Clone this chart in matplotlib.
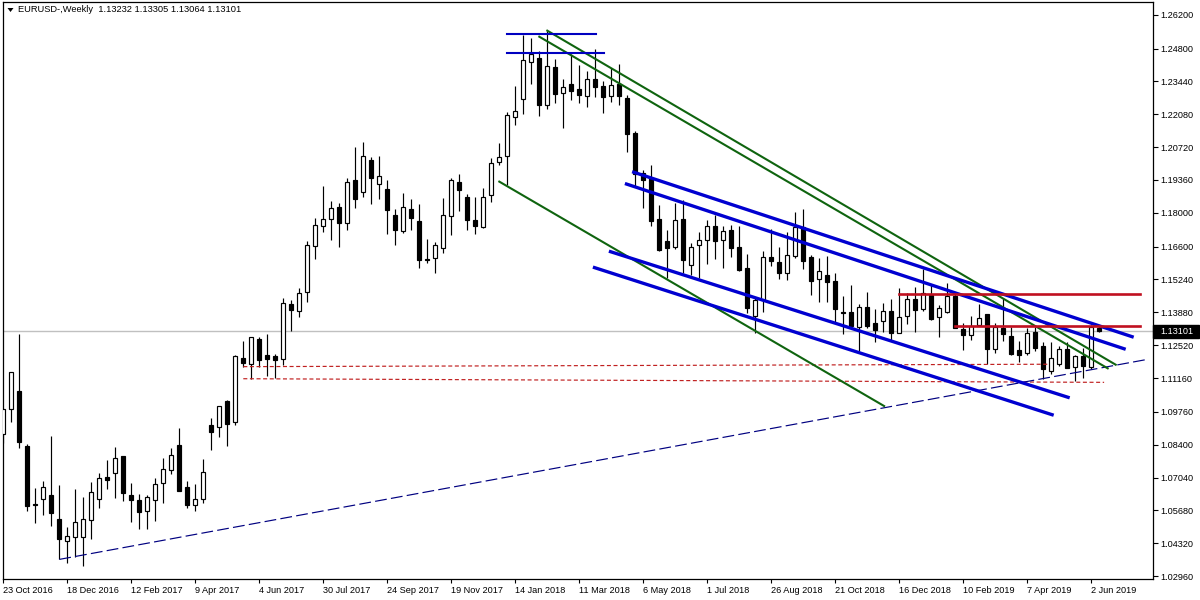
import numpy as np
import matplotlib
matplotlib.use("Agg")
import matplotlib.pyplot as plt
from matplotlib.patches import Rectangle, Polygon
from matplotlib.transforms import blended_transform_factory

plt.rcParams['font.family'] = ['Liberation Sans', 'DejaVu Sans']

title_text = "EURUSD-,Weekly  1.13232 1.13305 1.13064 1.13101"
last_price = 1.13101

opens = [1.0883,1.0986,1.1062,1.0834,1.0594,1.0614,1.0631,1.0532,1.0440,1.0456,
 1.0456,1.0529,1.0614,1.0706,1.0721,1.0793,1.0631,1.0611,1.0564,1.0609,
 1.0680,1.0734,1.0838,1.0665,1.0589,1.0616,1.0921,1.0912,1.1021,1.0932,
 1.1199,1.1172,1.1277,1.1211,1.1207,1.1196,1.1421,1.1395,1.1470,1.1664,
 1.1747,1.1773,1.1823,1.1757,1.1935,1.1888,1.2017,1.1921,1.1897,1.1790,
 1.1726,1.1815,1.1766,1.1609,1.1614,1.1656,1.1786,1.1926,1.1864,1.1769,
 1.1743,1.1872,1.2011,1.2034,1.2195,1.2270,1.2423,1.2441,1.2245,1.2403,
 1.2294,1.2332,1.2311,1.2282,1.2352,1.2325,1.2282,1.2333,1.2274,1.2130,
 1.1966,1.1942,1.1773,1.1683,1.1660,1.1773,1.1585,1.1665,1.1686,1.1744,
 1.1688,1.1728,1.1658,1.1570,1.1374,1.1437,1.1615,1.1595,1.1549,1.1622,
 1.1742,1.1615,1.1524,1.1542,1.1516,1.1390,1.1388,1.1328,1.1412,1.1342,
 1.1350,1.1392,1.1301,1.1371,1.1441,1.1400,1.1459,1.1367,1.1390,1.1456,
 1.1318,1.1293,1.1336,1.1380,1.1235,1.1322,1.1290,1.1231,1.1218,1.1307,
 1.1247,1.1147,1.1173,1.1235,1.1160,1.1207,1.1163,1.13232]
closes = [1.0988,1.1139,1.0852,1.0587,1.0589,1.0663,1.0558,1.0451,1.0460,1.0518,
 1.0531,1.0643,1.0700,1.0695,1.0783,1.0641,1.0612,1.0562,1.0622,1.0676,
 1.0738,1.0796,1.0649,1.0591,1.0614,1.0725,1.0894,1.0999,1.0927,1.1206,
 1.1178,1.1284,1.1192,1.1196,1.1190,1.1425,1.1398,1.1467,1.1666,1.1748,
 1.1773,1.1819,1.1759,1.1926,1.1859,1.2034,1.1946,1.1951,1.1813,1.1730,
 1.1823,1.1780,1.1606,1.1606,1.1666,1.1790,1.1935,1.1896,1.1772,1.1747,
 1.1864,1.2005,1.2029,1.2203,1.2220,1.2431,1.2457,1.2247,1.2406,1.2293,
 1.2319,1.2305,1.2289,1.2352,1.2322,1.2281,1.2328,1.2285,1.2127,1.1959,
 1.1937,1.1767,1.1646,1.1655,1.1769,1.1606,1.1657,1.1686,1.1744,1.1684,
 1.1723,1.1655,1.1563,1.1407,1.1437,1.1619,1.1601,1.1552,1.1624,1.1742,
 1.1601,1.1519,1.1557,1.1514,1.1403,1.1386,1.1331,1.1411,1.1332,1.1316,
 1.1394,1.1303,1.1367,1.1441,1.1396,1.1466,1.1361,1.1404,1.1454,1.1322,
 1.1292,1.1332,1.1363,1.1234,1.1326,1.1300,1.1217,1.1213,1.1301,1.1242,
 1.1152,1.1200,1.1235,1.1156,1.1206,1.1167,1.1329,1.13101]
highs = [1.0988,1.1139,1.1298,1.0843,1.0660,1.0689,1.0876,1.0673,1.0499,1.0656,
 1.0623,1.0685,1.0721,1.0776,1.0830,1.0793,1.0681,1.0636,1.0630,1.0702,
 1.0785,1.0826,1.0909,1.0689,1.0677,1.0781,1.0952,1.0999,1.1025,1.1211,
 1.1269,1.1284,1.1284,1.1298,1.1215,1.1447,1.1439,1.1489,1.1682,1.1779,
 1.1911,1.1849,1.1839,1.1944,1.2071,1.2092,1.2030,1.2035,1.1935,1.1815,
 1.1882,1.1856,1.1837,1.1692,1.1678,1.1860,1.1944,1.1961,1.1877,1.1866,
 1.1901,1.2025,1.2089,1.2216,1.2325,1.2537,1.2522,1.2471,1.2554,1.2435,
 1.2352,1.2457,1.2412,1.2387,1.2477,1.2345,1.2401,1.2416,1.2289,1.2137,
 1.1977,1.1998,1.1832,1.1729,1.1840,1.1853,1.1673,1.1719,1.1770,1.1790,
 1.1745,1.1749,1.1745,1.1628,1.1448,1.1641,1.1731,1.1657,1.1719,1.1802,
 1.1814,1.1624,1.1611,1.1621,1.1549,1.1454,1.1499,1.1421,1.1470,1.1400,
 1.1428,1.1441,1.1488,1.1469,1.1494,1.1566,1.1501,1.1418,1.1510,1.1467,
 1.1343,1.1373,1.1423,1.1380,1.1343,1.1446,1.1329,1.1271,1.1322,1.1329,
 1.1264,1.1265,1.1250,1.1266,1.1211,1.1239,1.1336,1.13305]
lows = [1.0848,1.0935,1.0827,1.0567,1.0517,1.0550,1.0505,1.0365,1.0351,1.0373,
 1.0339,1.0451,1.0579,1.0658,1.0620,1.0608,1.0521,1.0492,1.0492,1.0525,
 1.0600,1.0720,1.0649,1.0579,1.0567,1.0600,1.0819,1.0873,1.0836,1.0923,
 1.1160,1.1110,1.1163,1.1126,1.1114,1.1171,1.1311,1.1370,1.1432,1.1610,
 1.1722,1.1688,1.1660,1.1730,1.1821,1.1867,1.1838,1.1859,1.1714,1.1668,
 1.1718,1.1730,1.1573,1.1592,1.1552,1.1635,1.1710,1.1809,1.1730,1.1714,
 1.1736,1.1846,1.1999,1.1915,1.2163,1.2209,1.2333,1.2201,1.2231,1.2256,
 1.2152,1.2268,1.2256,1.2239,1.2279,1.2214,1.2260,1.2247,1.2053,1.1912,
 1.1821,1.1747,1.1643,1.1528,1.1650,1.1549,1.1542,1.1528,1.1589,1.1608,
 1.1572,1.1617,1.1559,1.1386,1.1301,1.1390,1.1581,1.1527,1.1521,1.1614,
 1.1568,1.1461,1.1432,1.1432,1.1345,1.1299,1.1325,1.1226,1.1324,1.1266,
 1.1307,1.1270,1.1301,1.1339,1.1307,1.1393,1.1356,1.1287,1.1386,1.1322,
 1.1232,1.1274,1.1336,1.1173,1.1221,1.1269,1.1210,1.1184,1.1213,1.1227,
 1.1112,1.1131,1.1166,1.1156,1.1105,1.1114,1.1152,1.13064]

date_labels = ["23 Oct 2016","18 Dec 2016","12 Feb 2017","9 Apr 2017","4 Jun 2017",
 "30 Jul 2017","24 Sep 2017","19 Nov 2017","14 Jan 2018","11 Mar 2018","6 May 2018",
 "1 Jul 2018","26 Aug 2018","21 Oct 2018","16 Dec 2018","10 Feb 2019","7 Apr 2019","2 Jun 2019"]
price_ticks = [1.26200,1.24800,1.23440,1.22080,1.20720,1.19360,1.18000,1.16600,1.15240,
 1.13880,1.12520,1.11160,1.09760,1.08400,1.07040,1.05680,1.04320,1.02960]

# trend lines: (bar index, price) pairs
green_lines = [((68.0,1.2554),(139.05,1.1171)), ((67.0,1.2529),(138.05,1.1156)), ((62.0,1.1929),(110.1,1.1000))]
blue_levels = [((63.0,1.2540),(74.1,1.2540)), ((63.0,1.2462),(75.1,1.2462))]
blue_channel = [((78.8,1.1968),(141.1,1.1287)), ((77.9,1.1919),(140.1,1.1237)),
                ((75.9,1.1639),(133.1,1.1036)), ((73.9,1.1573),(131.1,1.0964))]
red_levels = [((112.0,1.1464),(142.1,1.1464)), ((119.0,1.1333),(142.1,1.1333))]
red_dashed = [((30.0,1.1163),(130.8,1.1173)), ((30.0,1.1113),(137.6,1.1098))]
navy_line = [((7.0,1.0365),(143.0,1.1193))]

W, H = 1200, 600
fig = plt.figure(figsize=(12, 6), dpi=100, facecolor='white')
left, right, top, bottom = 2.5, 1152.5, 2.0, 578.7
ax = fig.add_axes([left/W, 1-bottom/H, (right-left)/W, (bottom-top)/H])
ax.set_xlim((left-3.3)/8, (right-3.3)/8)
p = lambda y: 1.1388 - 0.000414*(y-312.3)
ax.set_ylim(p(bottom), p(top))

x = np.arange(len(opens))
o, c, hi, lo = map(np.array, (opens, closes, highs, lows))
ax.axhline(last_price, color='#c0c0c0', lw=1.0, zorder=1)
ax.vlines(x, lo, hi, color='black', lw=0.85, zorder=2)
up = c > o
ax.bar(x[up], (c-o)[up], bottom=o[up], width=0.5, facecolor='white', edgecolor='black', lw=0.85, zorder=3)
ax.bar(x[~up], (o-c)[~up], bottom=c[~up], width=0.5, facecolor='black', edgecolor='black', lw=0.85, zorder=3)

def draw(lines, **kw):
    for (x0, y0), (x1, y1) in lines:
        ax.plot([x0, x1], [y0, y1], zorder=4, **kw)

draw(red_dashed, color='#c02020', lw=0.85, dashes=(3.4, 2.2))
draw(navy_line, color='#000080', lw=0.85, dashes=(10, 3.6))
draw(green_lines, color='#0f640f', lw=1.5)
draw(blue_channel, color='#0000d0', lw=2.4)
draw(blue_levels, color='#0000c0', lw=1.5)
draw(red_levels, color='#c01020', lw=1.9)

ax.set_xticks(x[::8][:len(date_labels)])
ax.set_xticklabels(date_labels, ha='left', fontsize=6.6)
ax.yaxis.tick_right()
ax.set_yticks(price_ticks)
ax.set_yticklabels([f"{v:.5f}" for v in price_ticks], fontsize=6.6)
ax.tick_params(axis='x', length=3, width=0.8, pad=2, color='black')
ax.tick_params(axis='y', length=3.5, width=0.8, pad=2.5, color='black')
for s in ax.spines.values():
    s.set_linewidth(0.9)
    s.set_color('black')

trans = blended_transform_factory(ax.transAxes, ax.transData)
ax.add_patch(Rectangle((1.0, last_price-6.5*0.000414), 46/1150, 13*0.000414, transform=trans,
                       facecolor='black', edgecolor='black', clip_on=False, zorder=6))
ax.text(1+7.5/1150, last_price, f"{last_price:.5f}", transform=trans, color='white', fontsize=6.6,
        va='center', ha='left', zorder=7, clip_on=False)

ax.text(15.5/1150, 1-8/577, title_text, transform=ax.transAxes, fontsize=6.65, va='center', ha='left', color='black')
ax.add_patch(Polygon([(5/1150, 1-6/577), (11/1150, 1-6/577), (8/1150, 1-10/577)], closed=True,
                     transform=ax.transAxes, facecolor='black', edgecolor='none'))

fig.savefig('out.png', dpi=100)
